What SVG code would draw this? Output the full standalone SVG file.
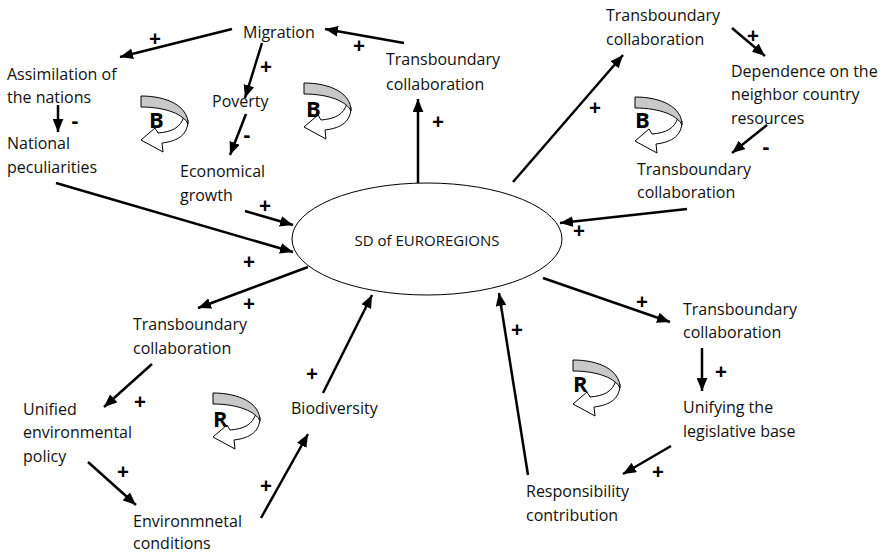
<svg xmlns="http://www.w3.org/2000/svg" width="891" height="553" viewBox="0 0 891 553">
<defs>
<style>
.t{font-family:"Open Sans","Liberation Sans",sans-serif;font-size:16px;fill:#111}
.s{font-family:"Open Sans","Liberation Sans",sans-serif;font-size:21px;font-weight:bold;fill:#000;text-anchor:middle}
.l{font-family:"Open Sans","Liberation Sans",sans-serif;font-size:22px;font-weight:bold;fill:#000}
.c{fill:none;stroke:#000;stroke-width:2.5}
.g{fill:#c8c8c8;stroke:#000;stroke-width:1}
.w{fill:#fff;stroke:#000;stroke-width:1}
</style>
<marker id="ah" viewBox="0 0 12 10" refX="12" refY="5" markerWidth="13" markerHeight="11" markerUnits="userSpaceOnUse" orient="auto"><path d="M0,0 L12,5 L0,10 Z" fill="#000"/></marker>
<g id="loopicon">
<path class="w" d="M47,24 C47,38 38,45 21,47 L22,56 L0,44 L14,32 L17,37 C30,36 40,32 43,20 Z"/>
<path class="g" d="M0,0 C26,0 47,10 47,28 C43,19 26,11 0,11 Z"/>
</g>
</defs>
<g id="center"><ellipse cx="427" cy="239" rx="135" ry="56" fill="#fff" stroke="#000" stroke-width="1"/><text class="t" x="427" y="246" text-anchor="middle" style="font-size:15px">SD of EUROREGIONS</text></g>
<g id="migration"><text class="t" x="243" y="38">Migration</text></g>
<g id="assimilation"><text class="t" x="7" y="80">Assimilation of</text><text class="t" x="7" y="103">the nations</text></g>
<g id="national"><text class="t" x="7" y="149">National</text><text class="t" x="7" y="173">peculiarities</text></g>
<g id="poverty"><text class="t" x="212" y="107">Poverty</text></g>
<g id="economical"><text class="t" x="180" y="177">Economical</text><text class="t" x="180" y="201">growth</text></g>
<g id="trans1"><text class="t" x="386" y="65">Transboundary</text><text class="t" x="386" y="90">collaboration</text></g>
<g id="trans2"><text class="t" x="606" y="21">Transboundary</text><text class="t" x="606" y="45">collaboration</text></g>
<g id="dependence"><text class="t" x="731" y="77">Dependence on the</text><text class="t" x="731" y="100">neighbor country</text><text class="t" x="731" y="124">resources</text></g>
<g id="trans3"><text class="t" x="637" y="175">Transboundary</text><text class="t" x="637" y="198">collaboration</text></g>
<g id="trans4"><text class="t" x="133" y="330">Transboundary</text><text class="t" x="133" y="354">collaboration</text></g>
<g id="unified"><text class="t" x="23" y="415">Unified</text><text class="t" x="23" y="438">environmental</text><text class="t" x="23" y="462">policy</text></g>
<g id="biodiversity"><text class="t" x="291" y="414">Biodiversity</text></g>
<g id="environ"><text class="t" x="133" y="527">Environmnetal</text><text class="t" x="133" y="549">conditions</text></g>
<g id="trans5"><text class="t" x="683" y="315">Transboundary</text><text class="t" x="683" y="338">collaboration</text></g>
<g id="unifying"><text class="t" x="683" y="413">Unifying the</text><text class="t" x="683" y="437">legislative base</text></g>
<g id="responsibility"><text class="t" x="526" y="497">Responsibility</text><text class="t" x="526" y="521">contribution</text></g>
<g id="connectors">
<path class="c" marker-end="url(#ah)" d="M232,29 L120,57"/>
<path class="c" marker-end="url(#ah)" d="M262,43 L245,98"/>
<path class="c" marker-end="url(#ah)" d="M246,114 L230,155"/>
<path class="c" marker-end="url(#ah)" d="M58,105 L58,132"/>
<path class="c" marker-end="url(#ah)" d="M404,43 L325,29"/>
<path class="c" marker-end="url(#ah)" d="M418,183 L418,99"/>
<path class="c" marker-end="url(#ah)" d="M56,183 L293,252"/>
<path class="c" marker-end="url(#ah)" d="M245,211 L293,225"/>
<path class="c" marker-end="url(#ah)" d="M308,267 L198,308"/>
<path class="c" marker-end="url(#ah)" d="M152,364 L104,407"/>
<path class="c" marker-end="url(#ah)" d="M88,462 L136,505"/>
<path class="c" marker-end="url(#ah)" d="M261,518 L308,434"/>
<path class="c" marker-end="url(#ah)" d="M323,393 L372,295"/>
<path class="c" marker-end="url(#ah)" d="M513,182 L623,55"/>
<path class="c" marker-end="url(#ah)" d="M732,28 L765,56"/>
<path class="c" marker-end="url(#ah)" d="M767,125 L732,153"/>
<path class="c" marker-end="url(#ah)" d="M687,209 L560,223"/>
<path class="c" marker-end="url(#ah)" d="M543,278 L670,322"/>
<path class="c" marker-end="url(#ah)" d="M702,348 L702,391"/>
<path class="c" marker-end="url(#ah)" d="M671,446 L623,474"/>
<path class="c" marker-end="url(#ah)" d="M528,475 L499,293"/>
</g>
<g id="signs">
<text class="s" x="155" y="46">+</text>
<text class="s" x="266" y="74">+</text>
<text class="s" x="247" y="142">-</text>
<text class="s" x="75" y="128">-</text>
<text class="s" x="359" y="53">+</text>
<text class="s" x="438" y="129">+</text>
<text class="s" x="265" y="213">+</text>
<text class="s" x="249" y="269">+</text>
<text class="s" x="249" y="311">+</text>
<text class="s" x="312" y="381">+</text>
<text class="s" x="140" y="409">+</text>
<text class="s" x="123" y="479">+</text>
<text class="s" x="266" y="493">+</text>
<text class="s" x="595" y="115">+</text>
<text class="s" x="753" y="43">+</text>
<text class="s" x="766" y="154">-</text>
<text class="s" x="579" y="238">+</text>
<text class="s" x="642" y="309">+</text>
<text class="s" x="721" y="379">+</text>
<text class="s" x="658" y="479">+</text>
<text class="s" x="517" y="337">+</text>
</g>
<g id="loop-b1"><use href="#loopicon" x="141" y="96"/><text class="l" x="149" y="128">B</text></g>
<g id="loop-b2"><use href="#loopicon" x="304" y="83"/><text class="l" x="306" y="117">B</text></g>
<g id="loop-b3"><use href="#loopicon" x="635" y="97"/><text class="l" x="635" y="128">B</text></g>
<g id="loop-r1"><use href="#loopicon" x="213" y="393"/><text class="l" x="213" y="427">R</text></g>
<g id="loop-r2"><use href="#loopicon" x="573" y="360"/><text class="l" x="573" y="392">R</text></g>
</svg>
